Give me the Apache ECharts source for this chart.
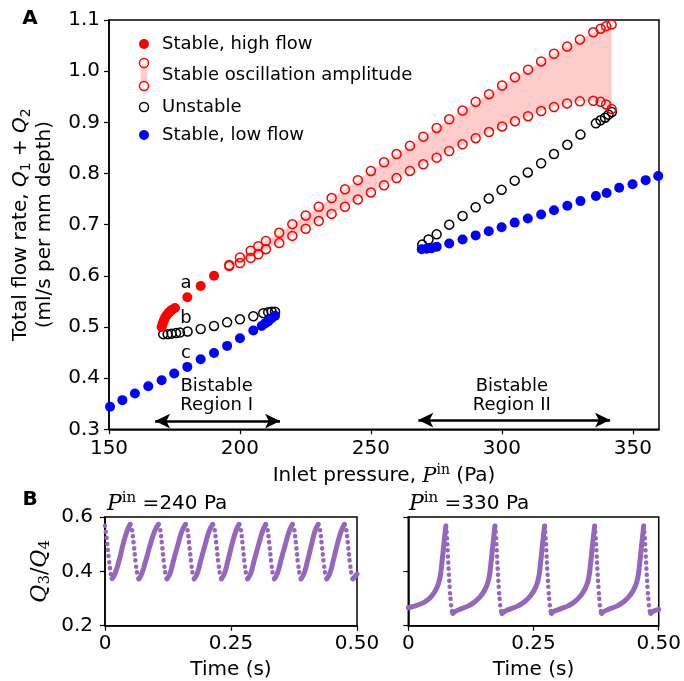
<!DOCTYPE html>
<html><head><meta charset="utf-8">
<script src="https://cdn.jsdelivr.net/npm/echarts@6/dist/echarts.min.js"></script>
<style>html,body{margin:0;padding:0;background:#fff}#c{width:684px;height:681px}</style>
</head><body><div id="c"></div>
<script>
// ---------- Panel A data ----------
const highFlowPressure = [170.1,170.5,170.9,171.4,172,172.6,173.2,173.9,175.2,179.9,185,190.1];
const highFlowRate     = [0.500,0.506,0.512,0.518,0.523,0.527,0.530,0.533,0.537,0.558,0.580,0.600];

const ampPressure = [195.9,200,204.1,207,209.9,215,220,225.1,230.1,235,240.1,245,250,255,259.8,264.9,270,275.1,279.9,285,290,295.1,300.1,305,310,315,319.9,324.9,329.8,334.9,337.7,339.8,341.9];
const ampHigh = [0.621,0.636,0.649,0.658,0.668,0.684,0.701,0.718,0.735,0.752,0.769,0.787,0.805,0.822,0.838,0.854,0.872,0.889,0.906,0.923,0.940,0.955,0.972,0.988,1.003,1.019,1.034,1.048,1.062,1.076,1.083,1.088,1.091];
const ampLow  = [0.619,0.625,0.635,0.642,0.652,0.664,0.678,0.692,0.707,0.721,0.735,0.749,0.763,0.777,0.791,0.805,0.818,0.831,0.844,0.857,0.869,0.881,0.892,0.902,0.912,0.922,0.930,0.937,0.941,0.942,0.940,0.935,0.926];

const unstablePressure = [170.7,172.4,173.9,175.6,177.1,180,185,190.1,195.1,200,205.1,208.9,210.8,212.1,213.4,
  269.6,272,275.1,279.9,285,290,295,299.9,304.9,309.9,315,319.9,325,330,335.9,337.7,339.4,340.7,342];
const unstableRate = [0.486,0.486,0.487,0.488,0.489,0.491,0.496,0.502,0.509,0.515,0.521,0.527,0.529,0.530,0.530,
  0.661,0.671,0.681,0.700,0.717,0.734,0.751,0.768,0.786,0.802,0.820,0.838,0.856,0.876,0.898,0.904,0.909,0.915,0.920];

const lowFlowPressure = [150.4,155.1,159.9,165,170.1,174.9,179.9,185,190.1,195.1,200,205.1,208.3,209.6,210.8,212.1,213.4,
  269.4,271.3,273.2,275.1,279.9,285,290,295,299.9,304.9,309.9,315,319.9,325,330,335.9,340,344.8,349.9,354.9,359.7];
const lowFlowRate = [0.344,0.357,0.370,0.384,0.396,0.409,0.422,0.437,0.449,0.463,0.478,0.493,0.502,0.507,0.511,0.517,0.522,
  0.652,0.653,0.654,0.657,0.663,0.671,0.679,0.687,0.695,0.704,0.712,0.720,0.728,0.737,0.746,0.756,0.762,0.772,0.779,0.787,0.795];

const noteText = ['a','b','c','Bistable\nRegion I','Bistable\nRegion II'];
const notePressure = [179.4,179.4,179.4,191.1,303.8];
const noteRate = [0.585,0.517,0.449,0.365,0.365];
const arrowFrom = [167.6,268.1];
const arrowTo = [215.3,341.3];
const arrowRate = [0.316,0.318];

const xTicksA = [150,200,250,300,350];

// ---------- Panel B data (time s, Q3/Q4) ----------
const p240Rise = [
 [[0.014,0.373],[0.020,0.392],[0.028,0.44],[0.036,0.50],[0.044,0.55],[0.050,0.573]],
 [[0.067,0.372],[0.073,0.392],[0.081,0.44],[0.090,0.50],[0.099,0.55],[0.106,0.573]],
 [[0.123,0.372],[0.129,0.392],[0.136,0.44],[0.145,0.50],[0.153,0.55],[0.160,0.573]],
 [[0.177,0.372],[0.183,0.392],[0.190,0.44],[0.199,0.50],[0.207,0.55],[0.214,0.573]],
 [[0.231,0.372],[0.237,0.392],[0.244,0.44],[0.252,0.50],[0.260,0.55],[0.266,0.573]],
 [[0.283,0.372],[0.289,0.392],[0.296,0.44],[0.305,0.50],[0.313,0.55],[0.319,0.573]],
 [[0.336,0.372],[0.342,0.392],[0.349,0.44],[0.358,0.50],[0.366,0.55],[0.372,0.573]],
 [[0.389,0.372],[0.395,0.392],[0.402,0.44],[0.410,0.50],[0.417,0.55],[0.423,0.573]],
 [[0.440,0.372],[0.446,0.392],[0.453,0.44],[0.461,0.50],[0.469,0.55],[0.475,0.573]],
 [[0.492,0.372],[0.500,0.39]]
];
const p240Fall = [
 [[0.000,0.568],[0.004,0.51],[0.008,0.44],[0.012,0.385],[0.014,0.373]],
 [[0.050,0.573],[0.053,0.56],[0.057,0.50],[0.061,0.43],[0.065,0.38],[0.067,0.372]],
 [[0.106,0.573],[0.109,0.56],[0.113,0.50],[0.117,0.43],[0.121,0.38],[0.123,0.372]],
 [[0.160,0.573],[0.163,0.56],[0.167,0.50],[0.171,0.43],[0.175,0.38],[0.177,0.372]],
 [[0.214,0.573],[0.217,0.56],[0.221,0.50],[0.225,0.43],[0.229,0.38],[0.231,0.372]],
 [[0.266,0.573],[0.269,0.56],[0.273,0.50],[0.277,0.43],[0.281,0.38],[0.283,0.372]],
 [[0.319,0.573],[0.322,0.56],[0.326,0.50],[0.330,0.43],[0.334,0.38],[0.336,0.372]],
 [[0.372,0.573],[0.375,0.56],[0.379,0.50],[0.383,0.43],[0.387,0.38],[0.389,0.372]],
 [[0.423,0.573],[0.426,0.56],[0.430,0.50],[0.434,0.43],[0.438,0.38],[0.440,0.372]],
 [[0.475,0.573],[0.478,0.56],[0.482,0.50],[0.486,0.43],[0.490,0.38],[0.492,0.372]]
];
const p330Rise = [
 [[0.000,0.266],[0.012,0.272],[0.024,0.280],[0.035,0.290],[0.047,0.31],[0.057,0.34],[0.063,0.375],[0.067,0.43],[0.071,0.50],[0.075,0.567]],
 [[0.089,0.245],[0.093,0.252],[0.105,0.262],[0.120,0.273],[0.133,0.288],[0.145,0.31],[0.155,0.34],[0.161,0.375],[0.165,0.43],[0.169,0.50],[0.173,0.567]],
 [[0.187,0.245],[0.192,0.252],[0.204,0.262],[0.219,0.273],[0.232,0.288],[0.244,0.31],[0.254,0.34],[0.260,0.375],[0.264,0.43],[0.268,0.50],[0.272,0.567]],
 [[0.286,0.245],[0.290,0.252],[0.304,0.262],[0.319,0.273],[0.332,0.288],[0.344,0.31],[0.354,0.34],[0.360,0.375],[0.364,0.43],[0.368,0.50],[0.372,0.567]],
 [[0.386,0.245],[0.390,0.252],[0.402,0.262],[0.417,0.273],[0.430,0.288],[0.442,0.31],[0.452,0.34],[0.458,0.375],[0.462,0.43],[0.466,0.50],[0.470,0.567]],
 [[0.484,0.245],[0.488,0.252],[0.500,0.260]]
];
const p330Fall = [
 [[0.075,0.567],[0.077,0.53],[0.079,0.46],[0.081,0.39],[0.083,0.33],[0.085,0.285],[0.087,0.255],[0.089,0.245]],
 [[0.173,0.567],[0.175,0.53],[0.177,0.46],[0.179,0.39],[0.181,0.33],[0.183,0.285],[0.185,0.255],[0.187,0.245]],
 [[0.272,0.567],[0.274,0.53],[0.276,0.46],[0.278,0.39],[0.280,0.33],[0.282,0.285],[0.284,0.255],[0.286,0.245]],
 [[0.372,0.567],[0.374,0.53],[0.376,0.46],[0.378,0.39],[0.380,0.33],[0.382,0.285],[0.384,0.255],[0.386,0.245]],
 [[0.470,0.567],[0.472,0.53],[0.474,0.46],[0.476,0.39],[0.478,0.33],[0.480,0.285],[0.482,0.255],[0.484,0.245]]
];
const xTicksB = [0,0.25,0.5];

// ---------- build ----------
const FONT = 'DejaVu Sans';
const SERIF = 'DejaVu Serif';
const PURPLE = '#9467bd';
const zip = (a,b) => a.map((v,i)=>[v,b[i]]);

function axisBase(extra){
  return Object.assign({
    axisLine:{show:true,lineStyle:{color:'#000',width:1.5}},
    axisTick:{show:true,inside:false,length:5,lineStyle:{color:'#000',width:1.2}},
    splitLine:{show:false},
    axisLabel:{color:'#000',fontSize:20,fontFamily:FONT},
    nameTextStyle:{color:'#000',fontSize:20,fontFamily:FONT}
  }, extra);
}

const gridBox = {show:true,borderColor:'#000',borderWidth:1.5,backgroundColor:'transparent'};

const series = [];
series.push({
  type:'custom', xAxisIndex:0, yAxisIndex:0, silent:true, z:1,
  data:[[ampPressure[0], ampLow[0]]],
  renderItem:function(params, api){
    const pts = [];
    for (let i=0;i<ampPressure.length;i++) pts.push(api.coord([ampPressure[i], ampHigh[i]]));
    for (let i=ampPressure.length-1;i>=0;i--) pts.push(api.coord([ampPressure[i], ampLow[i]]));
    return {type:'polygon', shape:{points:pts}, style:{fill:'rgba(255,0,0,0.2)', stroke:'none'}};
  }
});
const openStyle = c => ({color:'rgba(0,0,0,0)', borderColor:c, borderWidth:1.5, opacity:1});
series.push({name:'Unstable', type:'scatter', xAxisIndex:0, yAxisIndex:0, symbol:'circle', symbolSize:9,
  itemStyle:openStyle('#000'), data:zip(unstablePressure, unstableRate)});
series.push({name:'ampHigh', type:'scatter', xAxisIndex:0, yAxisIndex:0, symbol:'circle', symbolSize:9,
  itemStyle:openStyle('#ff0000'), data:zip(ampPressure, ampHigh)});
series.push({name:'ampLow', type:'scatter', xAxisIndex:0, yAxisIndex:0, symbol:'circle', symbolSize:9,
  itemStyle:openStyle('#ff0000'), data:zip(ampPressure, ampLow)});
series.push({name:'Stable, high flow', type:'scatter', xAxisIndex:0, yAxisIndex:0, symbol:'circle', symbolSize:10,
  itemStyle:{color:'#ff0000', opacity:1}, data:zip(highFlowPressure, highFlowRate)});
series.push({name:'Stable, low flow', type:'scatter', xAxisIndex:0, yAxisIndex:0, symbol:'circle', symbolSize:10,
  itemStyle:{color:'#0000ff', opacity:1}, data:zip(lowFlowPressure, lowFlowRate)});
series.push({name:'notes', type:'scatter', xAxisIndex:0, yAxisIndex:0, symbolSize:0, silent:true,
  itemStyle:{opacity:1},
  data: noteText.map((t,i)=>({name:t, value:[notePressure[i], noteRate[i]]})),
  label:{show:true, position:[0,0], align:'center', verticalAlign:'middle', formatter:p=>p.name,
    color:'#000', opacity:1, fontSize:18, fontFamily:FONT, lineHeight:19},
  markLine:{silent:true, animation:false, symbol:['arrow','arrow'], symbolSize:[11,15],
    lineStyle:{color:'#000', width:2.5, type:'solid', opacity:1}, label:{show:false},
    data: arrowFrom.map((f,i)=>[{coord:[f, arrowRate[i]]},{coord:[arrowTo[i], arrowRate[i]]}])}
});

function addB(rise, fall, xi){
  rise.forEach(seg => series.push({type:'line', xAxisIndex:xi, yAxisIndex:xi, data:seg, smooth:0.5,
    symbol:'none', silent:true, lineStyle:{color:PURPLE, width:5, cap:'round', join:'round'}}));
  fall.forEach(seg => series.push({type:'line', xAxisIndex:xi, yAxisIndex:xi, data:seg, smooth:0.4,
    symbol:'none', silent:true, lineStyle:{color:PURPLE, width:4.5, type:[0.1,6], cap:'round'}}));
}
addB(p240Rise, p240Fall, 1);
addB(p330Rise, p330Fall, 2);

const bxLabel = v => v===0 ? '0' : v.toFixed(2);

const option = {
  animation:false,
  backgroundColor:'#fff',
  grid:[
    Object.assign({left:109, top:20, width:550, height:409.3}, gridBox),
    Object.assign({left:105, top:517, width:252, height:108.7}, gridBox),
    Object.assign({left:408.3, top:517, width:251, height:108.7}, gridBox)
  ],
  xAxis:[
    axisBase({type:'value', gridIndex:0, min:150, max:360, interval:50,
      axisTick:{show:true,inside:false,length:5,lineStyle:{color:'#000',width:1.2},customValues:xTicksA},
      axisLabel:{color:'#000',fontSize:20,fontFamily:FONT,margin:9,customValues:xTicksA},
      name:'Inlet pressure, {p|P}{s|in} (Pa)', nameLocation:'middle', nameGap:28,
      nameTextStyle:{color:'#000',fontSize:20,fontFamily:FONT,lineHeight:26,
        rich:{p:{fontFamily:SERIF,fontStyle:'italic',fontSize:21,lineHeight:26},
              s:{fontFamily:SERIF,fontSize:14,lineHeight:14,verticalAlign:'top'}}}}),
    axisBase({type:'value', gridIndex:1, min:0, max:0.5, interval:0.25,
      axisLabel:{color:'#000',fontSize:20,fontFamily:FONT,margin:8,formatter:bxLabel},
      name:'Time (s)', nameLocation:'middle', nameGap:34}),
    axisBase({type:'value', gridIndex:2, min:0, max:0.5, interval:0.25,
      axisLabel:{color:'#000',fontSize:20,fontFamily:FONT,margin:8,formatter:bxLabel},
      name:'Time (s)', nameLocation:'middle', nameGap:34})
  ],
  yAxis:[
    axisBase({type:'value', gridIndex:0, min:0.3, max:1.1, interval:0.1,
      axisLabel:{color:'#000',fontSize:20,fontFamily:FONT,margin:9,formatter:v=>v.toFixed(1)},
      name:'Total flow rate, {q|Q}{b|1}{n| + }{q|Q}{b|2}\n(ml/s per mm depth)', nameLocation:'middle', nameGap:50, nameRotate:90,
      nameTextStyle:{color:'#000',fontSize:20,fontFamily:FONT,lineHeight:24,
        rich:{q:{fontFamily:FONT,fontStyle:'italic',fontSize:20,lineHeight:24},
              n:{fontFamily:FONT,fontSize:20,lineHeight:24},
              b:{fontFamily:FONT,fontSize:14,lineHeight:14,verticalAlign:'bottom'}}}}),
    axisBase({type:'value', gridIndex:1, min:0.2, max:0.6, interval:0.2,
      axisLabel:{color:'#000',fontSize:20,fontFamily:FONT,margin:12,formatter:v=>v.toFixed(1)},
      name:'{q|Q}{b|3}{n|/}{q|Q}{b|4}', nameLocation:'middle', nameGap:52, nameRotate:90,
      nameTextStyle:{color:'#000',fontSize:22,fontFamily:SERIF,lineHeight:26,
        rich:{q:{fontFamily:SERIF,fontStyle:'italic',fontSize:22,lineHeight:26},
              n:{fontFamily:SERIF,fontSize:22,lineHeight:26},
              b:{fontFamily:SERIF,fontSize:15,lineHeight:15,verticalAlign:'bottom'}}}}),
    axisBase({type:'value', gridIndex:2, min:0.2, max:0.6, interval:0.2,
      axisLabel:{show:false}})
  ],
  graphic:[
    {type:'text', style:{text:'A', x:30, y:19, align:'center', verticalAlign:'middle', textAlign:'center', textVerticalAlign:'middle', fontSize:20, fontWeight:'bold', fontFamily:FONT, fill:'#000'}},
    {type:'text', style:{text:'B', x:30, y:500, align:'center', verticalAlign:'middle', textAlign:'center', textVerticalAlign:'middle', fontSize:20, fontWeight:'bold', fontFamily:FONT, fill:'#000'}},
    {type:'text', style:{text:'{p|P}{s|in}{t| =240 Pa}', x:107, y:504, verticalAlign:'middle', textVerticalAlign:'middle',
      rich:{p:{fontFamily:SERIF,fontStyle:'italic',fontSize:22,lineHeight:26,fill:'#000'},
            s:{fontFamily:SERIF,fontSize:15,lineHeight:15,verticalAlign:'top',fill:'#000'},
            t:{fontFamily:FONT,fontSize:20,lineHeight:26,fill:'#000'}}}},
    {type:'text', style:{text:'{p|P}{s|in}{t| =330 Pa}', x:409, y:504, verticalAlign:'middle', textVerticalAlign:'middle',
      rich:{p:{fontFamily:SERIF,fontStyle:'italic',fontSize:22,lineHeight:26,fill:'#000'},
            s:{fontFamily:SERIF,fontSize:15,lineHeight:15,verticalAlign:'top',fill:'#000'},
            t:{fontFamily:FONT,fontSize:20,lineHeight:26,fill:'#000'}}}},
    // legend
    {type:'circle', shape:{cx:144, cy:44, r:5}, style:{fill:'#ff0000'}},
    {type:'rect', shape:{x:140.7, y:63, width:6.6, height:23}, style:{fill:'rgba(255,0,0,0.2)'}},
    {type:'circle', shape:{cx:144, cy:63, r:4.5}, style:{fill:'#fff', stroke:'#ff0000', lineWidth:1.5}},
    {type:'circle', shape:{cx:144, cy:86, r:4.5}, style:{fill:'#fff', stroke:'#ff0000', lineWidth:1.5}},
    {type:'circle', shape:{cx:144, cy:107, r:4.5}, style:{fill:'#fff', stroke:'#000', lineWidth:1.5}},
    {type:'circle', shape:{cx:144, cy:135, r:5}, style:{fill:'#0000ff'}},
    {type:'text', style:{text:'Stable, high flow', x:162, y:44, verticalAlign:'middle', textVerticalAlign:'middle', fontSize:18, fontFamily:FONT, fill:'#000'}},
    {type:'text', style:{text:'Stable oscillation amplitude', x:162, y:75, verticalAlign:'middle', textVerticalAlign:'middle', fontSize:18, fontFamily:FONT, fill:'#000'}},
    {type:'text', style:{text:'Unstable', x:162, y:107, verticalAlign:'middle', textVerticalAlign:'middle', fontSize:18, fontFamily:FONT, fill:'#000'}},
    {type:'text', style:{text:'Stable, low flow', x:162, y:135, verticalAlign:'middle', textVerticalAlign:'middle', fontSize:18, fontFamily:FONT, fill:'#000'}}
  ],
  series: series
};
const chart = echarts.init(document.getElementById('c'), null, {renderer:'canvas'});
chart.setOption(option);
</script></body></html>
